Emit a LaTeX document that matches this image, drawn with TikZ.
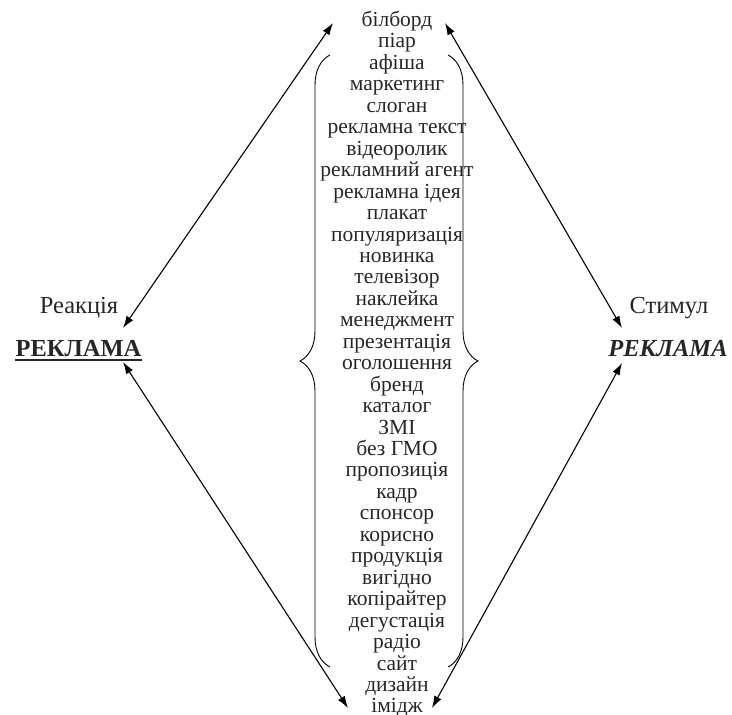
\documentclass[tikz,border=0pt]{standalone}
\usepackage{fontspec}
\setmainfont{Liberation Serif}
\usetikzlibrary{arrows.meta,decorations.pathreplacing}

\begin{document}
\begin{tikzpicture}[x=1pt, y=1pt,
 word/.style={inner sep=0pt, anchor=base, text=black!85, font=\fontsize{21.5}{21.5}\selectfont},
 label/.style={inner sep=0pt, anchor=base, text=black!85, font=\fontsize{24.5}{24.5}\selectfont},
 link/.style={{Latex[length=12pt,width=8pt]}-{Latex[length=12pt,width=8pt]}, line width=1.1pt}]

\useasboundingbox (0,0) rectangle (732,-715);

% list of words in the middle
 \foreach \w [count=\i from 0] in {білборд, піар, афіша, маркетинг, слоган,
  рекламна текст, відеоролик, рекламний агент, рекламна ідея, плакат,
  популяризація, новинка, телевізор, наклейка, менеджмент, презентація,
  оголошення, бренд, каталог, ЗМІ, без ГМО, пропозиція, кадр, спонсор,
  корисно, продукція, вигідно, копірайтер, дегустація, радіо, сайт,
  дизайн, імідж}
  {
  \path (397,-26.5-21.45*\i) node[word] (w\i) {\w};
  }

% braces
\draw[line width=0.9pt, decorate, decoration={brace, amplitude=30pt}]
(330,-667) -- (330,-55);
\draw[line width=0.9pt, decorate, decoration={brace, amplitude=30pt}]
(448,-55) -- (448,-667);

% left side
\path
(79,-313.3) node[label] (reak) {Реакція}
(78.5,-356.7) node[label, font=\fontsize{24.5}{24.5}\selectfont\bfseries] (lrek) {РЕКЛАМА};
\draw[line width=2.4pt, black!85]
([yshift=-3pt]lrek.base west) -- ([yshift=-3pt]lrek.base east);

% right side
\path
(669,-313.3) node[label] (stim) {Стимул}
(668,-356.7) node[label, font=\fontsize{24.5}{24.5}\selectfont\bfseries\itshape] (rrek) {РЕКЛАМА};

% arrow ends
\coordinate (tl) at (333,-23);
\coordinate (tr) at (445,-23);
\coordinate (bl) at (348,-708);
\coordinate (br) at (432,-708);
\coordinate (lu) at (123,-328);
\coordinate (ld) at (123,-362);
\coordinate (ru) at (622,-328);
\coordinate (rd) at (622,-363);

% arrows
\draw[link] (tl) -- (lu);
\draw[link] (tr) -- (ru);
\draw[link] (ld) -- (bl);
\draw[link] (rd) -- (br);

\end{tikzpicture}
\end{document}
